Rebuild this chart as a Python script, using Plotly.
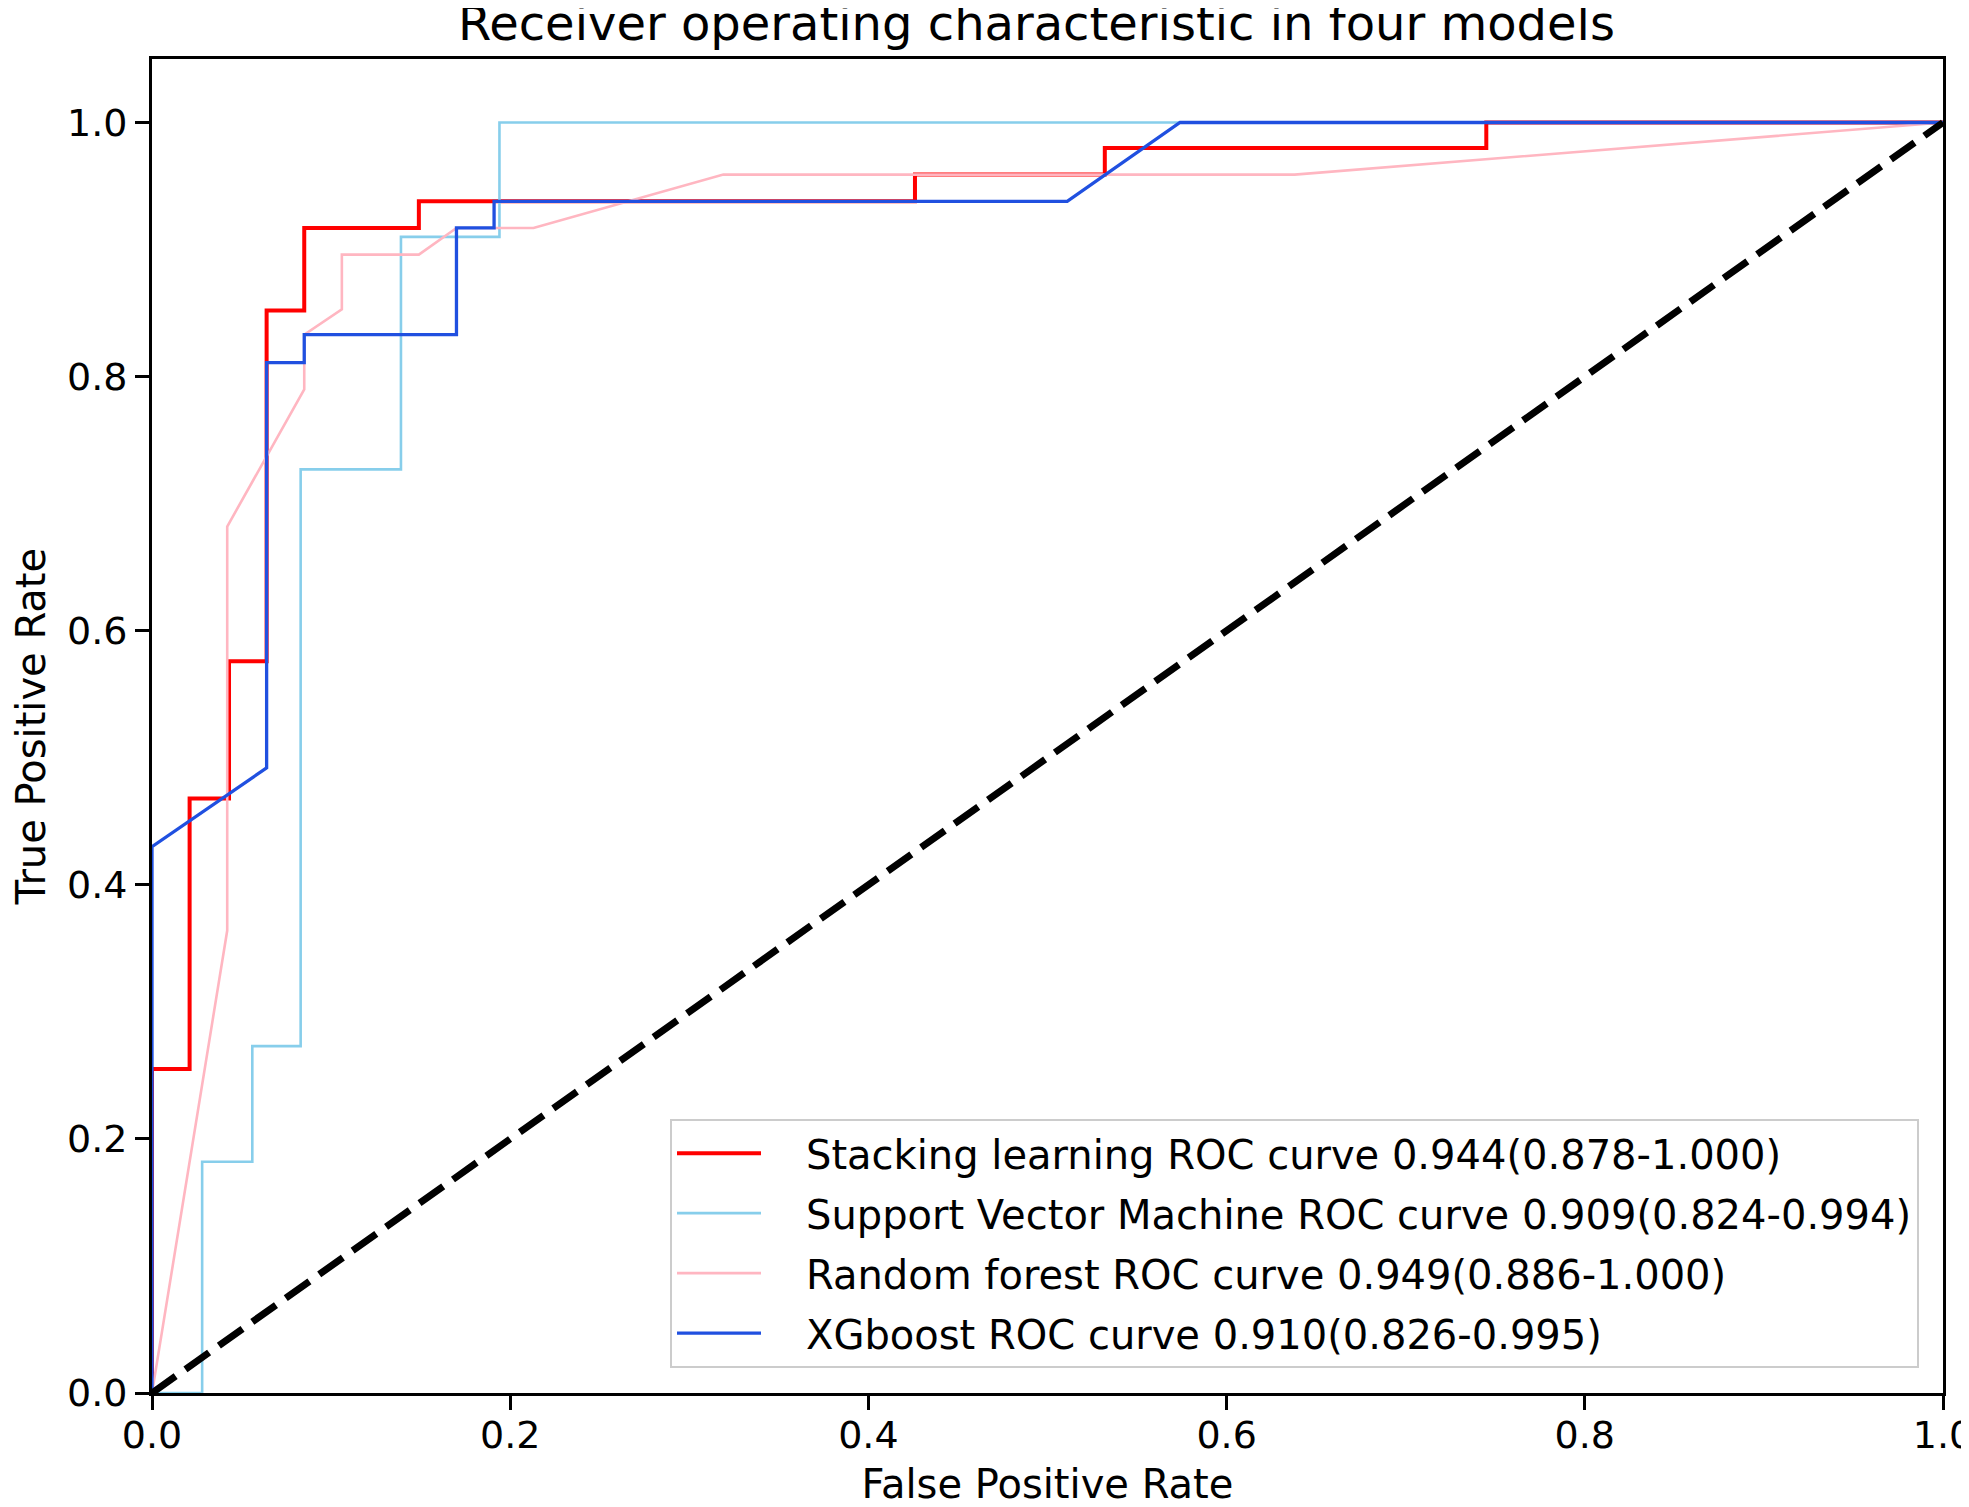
import plotly.graph_objects as go

# ROC curve points
stack_fpr = [0, 0, 0.021, 0.021, 0.043, 0.043, 0.064, 0.064, 0.085, 0.085, 0.149, 0.149,
             0.426, 0.426, 0.532, 0.532, 0.745, 0.745, 1.0]
stack_tpr = [0, 0.255, 0.255, 0.468, 0.468, 0.576, 0.576, 0.852, 0.852, 0.917, 0.917, 0.938,
             0.938, 0.959, 0.959, 0.980, 0.980, 1.0, 1.0]

svm_fpr = [0, 0.028, 0.028, 0.056, 0.056, 0.083, 0.083, 0.139, 0.139, 0.194, 0.194, 1.0]
svm_tpr = [0, 0, 0.182, 0.182, 0.273, 0.273, 0.727, 0.727, 0.910, 0.910, 1.0, 1.0]

rf_fpr = [0, 0.042, 0.042, 0.085, 0.085, 0.106, 0.106, 0.149, 0.170, 0.213, 0.319, 0.638, 1.0]
rf_tpr = [0, 0.364, 0.682, 0.790, 0.833, 0.853, 0.896, 0.896, 0.917, 0.917, 0.959, 0.959, 1.0]

xgb_fpr = [0, 0, 0.064, 0.064, 0.085, 0.085, 0.170, 0.170, 0.191, 0.191, 0.511, 0.574, 1.0]
xgb_tpr = [0, 0.430, 0.492, 0.811, 0.811, 0.833, 0.833, 0.917, 0.917, 0.938, 0.938, 1.0, 1.0]

names = [
    "Stacking learning ROC curve 0.944(0.878-1.000)",
    "Support Vector Machine ROC curve 0.909(0.824-0.994)",
    "Random forest ROC curve 0.949(0.886-1.000)",
    "XGboost ROC curve 0.910(0.826-0.995)",
]

tick_vals = [0, 0.2, 0.4, 0.6, 0.8, 1.0]
tick_text = ["0.0", "0.2", "0.4", "0.6", "0.8", "1.0"]

FONT = "DejaVu Sans"

fig = go.Figure()

curves = [
    (stack_fpr, stack_tpr, "red", 4),
    (svm_fpr, svm_tpr, "#87CEEB", 2.6),
    (rf_fpr, rf_tpr, "#FFB6C1", 2.6),
    (xgb_fpr, xgb_tpr, "#2050E0", 3.3),
]
for i, (fx, ty, col, w) in enumerate(curves):
    fig.add_trace(go.Scatter(
        x=fx, y=ty, mode="lines", name="\u2003" + names[i],
        line=dict(color=col, width=w),
        legendgroup=str(i),
    ))

# chance line
fig.add_trace(go.Scatter(
    x=[0, 1], y=[0, 1], mode="lines", showlegend=False,
    line=dict(color="black", width=7, dash="29px,12px"),
))

axis_style = dict(
    showline=True, mirror=True, linecolor="black", linewidth=3,
    ticks="outside", ticklen=14, tickwidth=3, tickcolor="black",
    showgrid=False, zeroline=False, automargin=False,
    tickvals=tick_vals, ticktext=tick_text, ticklabeloverflow="allow",
    tickfont=dict(family=FONT, size=38, color="black"),
)

# page body adds an 8px margin, so the figure is a bit smaller than the window
fig.update_layout(
    width=1961, height=1499,
    margin=dict(l=144, r=26, t=51, b=114),
    paper_bgcolor="white", plot_bgcolor="white",
    font=dict(family=FONT, color="black"),
    xaxis=dict(range=[0, 1], ticklabelstandoff=-8,
               title=dict(text="False Positive Rate", standoff=24,
                          font=dict(family=FONT, size=40)),
               **axis_style),
    yaxis=dict(range=[0, 1.05],
               title=dict(text="True Positive Rate", standoff=46,
                          font=dict(family=FONT, size=40)),
               **axis_style),
    legend=dict(x=0.9866, y=0.019, xanchor="right", yanchor="bottom",
                bgcolor="rgba(255,255,255,0.8)", bordercolor="#cccccc",
                borderwidth=2, font=dict(family=FONT, size=40),
                tracegroupgap=5, itemwidth=84),
)

fig.add_annotation(
    text="Receiver operating characteristic in four models",
    x=0.4936, xref="paper", xanchor="center",
    y=1.0, yref="paper", yanchor="bottom", yshift=6,
    showarrow=False, font=dict(family=FONT, size=48, color="black"),
)

fig.write_html("out.html")
